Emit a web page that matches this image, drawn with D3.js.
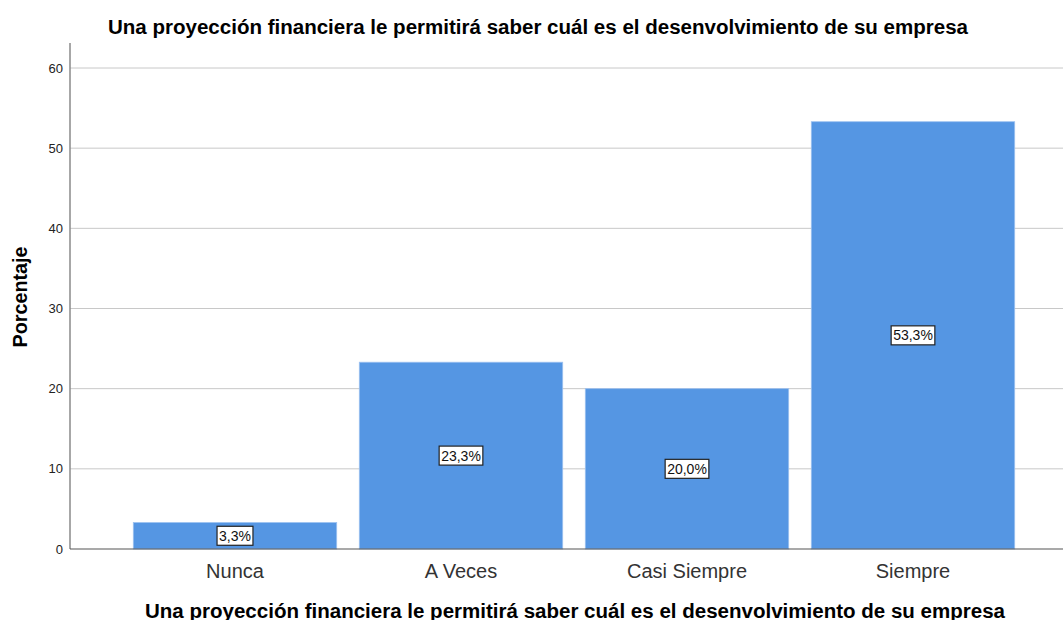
<!DOCTYPE html>
<html lang="es">
<head>
<meta charset="UTF-8">
<title>Proyección financiera</title>
<script src="https://cdn.jsdelivr.net/npm/d3@7"></script>
<style>
    body { margin: 0; background: #fff; }
    svg { font-family: "Liberation Sans", Arial, sans-serif; }
</style>
</head>
<body>
<script>
const categories = ["Nunca", "A Veces", "Casi Siempre", "Siempre"];
const percentages = [3.3, 23.3, 20.0, 53.3];
const yTicks = [0, 10, 20, 30, 40, 50, 60];
const titleText = "Una proyección financiera le permitirá saber cuál es el desenvolvimiento de su empresa";

const w = 1063, h = 620;
const svg = d3.select("body").append("svg")
    .attr("width", w).attr("height", h);

const x = d3.scaleBand()
    .domain(categories)
    .range([122, 1026])
    .paddingInner(0.1)
    .paddingOuter(0.05);

const y = d3.scaleLinear()
    .domain([0, 60])
    .range([549, 68]);

// gridlines
svg.append("g").selectAll("line")
    .data(yTicks.filter(d => d > 0))
    .enter().append("line")
    .attr("x1", 70).attr("x2", w)
    .attr("y1", d => y(d)).attr("y2", d => y(d))
    .attr("stroke", "#c8c8c8").attr("stroke-width", 1);

// bars
svg.append("g").selectAll("rect")
    .data(percentages)
    .enter().append("rect")
    .attr("x", (d, i) => x(categories[i]))
    .attr("y", d => y(d))
    .attr("width", x.bandwidth())
    .attr("height", d => y(0) - y(d))
    .attr("fill", "#5596e3")
    .attr("stroke", "#9cc1f0")
    .attr("stroke-width", 0.8);

// axes lines
svg.append("line")
    .attr("x1", 70).attr("x2", 70).attr("y1", 43).attr("y2", 549)
    .attr("stroke", "#8a8a8a").attr("stroke-width", 1.5);
svg.append("line")
    .attr("x1", 70).attr("x2", w).attr("y1", 549).attr("y2", 549)
    .attr("stroke", "#555").attr("stroke-width", 1.2);

// y ticks
svg.append("g").selectAll("text")
    .data(yTicks)
    .enter().append("text")
    .attr("x", 63).attr("y", d => y(d) + 4.5)
    .attr("text-anchor", "end")
    .attr("font-size", 13).attr("fill", "#222")
    .text(d => d);

// category labels
svg.append("g").selectAll("text")
    .data(categories)
    .enter().append("text")
    .attr("x", d => x(d) + x.bandwidth() / 2)
    .attr("y", 578)
    .attr("text-anchor", "middle")
    .attr("font-size", 20).attr("fill", "#333")
    .text(d => d);

// value labels
const labels = svg.append("g").selectAll("g")
    .data(percentages)
    .enter().append("g")
    .attr("transform", (d, i) => "translate(" + (x(categories[i]) + x.bandwidth() / 2) + "," + ((y(0) + y(d)) / 2) + ")");
labels.append("rect")
    .attr("x", -22).attr("y", -9.5)
    .attr("width", 44).attr("height", 19)
    .attr("fill", "#fff").attr("stroke", "#222").attr("stroke-width", 1.2);
labels.append("text")
    .attr("text-anchor", "middle")
    .attr("y", 5)
    .attr("font-size", 14).attr("fill", "#111")
    .text(d => d.toFixed(1).replace(".", ",") + "%");
labels.each(function () {
    const t = d3.select(this).select("text").node().getBBox();
    d3.select(this).select("rect")
        .attr("x", -t.width / 2 - 2).attr("width", t.width + 4);
});

// titles
svg.append("text")
    .attr("x", 538).attr("y", 34)
    .attr("text-anchor", "middle")
    .attr("font-size", 19.5).attr("font-weight", "bold").attr("fill", "#000")
    .attr("textLength", 860).attr("lengthAdjust", "spacingAndGlyphs")
    .text(titleText);
svg.append("text")
    .attr("x", 575).attr("y", 618)
    .attr("text-anchor", "middle")
    .attr("font-size", 19.5).attr("font-weight", "bold").attr("fill", "#000")
    .attr("textLength", 860).attr("lengthAdjust", "spacingAndGlyphs")
    .text(titleText);
svg.append("text")
    .attr("transform", "translate(27,297) rotate(-90)")
    .attr("text-anchor", "middle")
    .attr("font-size", 19.5).attr("font-weight", "bold").attr("fill", "#000")
    .attr("textLength", 101).attr("lengthAdjust", "spacingAndGlyphs")
    .text("Porcentaje");
</script>
</body>
</html>
